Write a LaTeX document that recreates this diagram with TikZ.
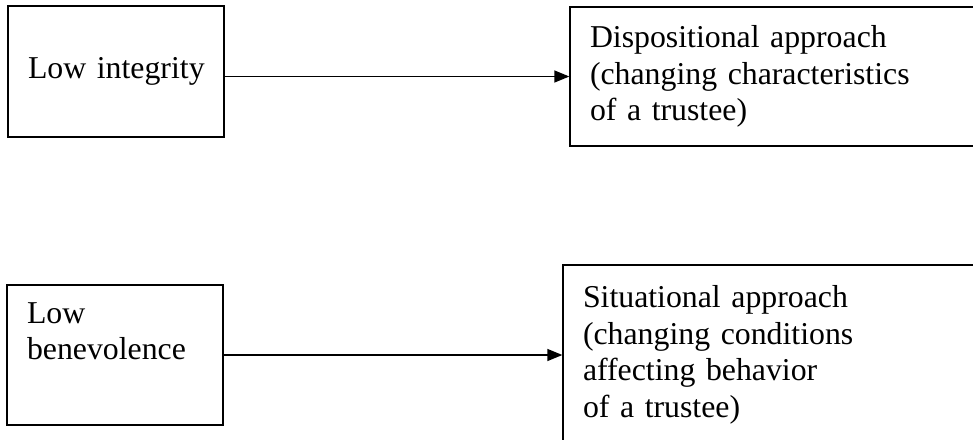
\documentclass[tikz,border=0pt]{standalone}
\usepackage{fontspec}
\setmainfont{Liberation Serif}
\usetikzlibrary{arrows.meta}

\tikzstyle{base}=[rectangle,
                    draw=black,
                    line width=1.3pt,
                    inner xsep=20pt,
                    align=left,
                    font=\fontsize{31.8}{36.5}\selectfont]
\tikzstyle{cause}=[base, text width=176pt]
\tikzstyle{approach}=[base, text width=400pt]

\begin{document}
\begin{tikzpicture}[x=1pt, y=-1pt]
    \path[use as bounding box, clip] (0,0) rectangle (973,439);

      \node at (116.0,  71.5) (low_integ)   [cause, minimum height=131pt]    {\mbox{Low integrity}};
      \node at (790.0,  76.5) (dispos)      [approach, minimum height=139pt] {Dispositional approach\\(changing characteristics\\of a trustee)};
      \node at (115.0, 355.0) (low_benev)   [cause, minimum height=140pt]    {Low\\benevolence\\\strut};
      \node at (783.0, 355.0) (situat)      [approach, minimum height=180pt] {Situational approach\\(changing conditions\\affecting behavior\\of a trustee)};

      \draw[-{Triangle[length=15pt,width=12pt]}, line width=1.3pt] (low_integ.east |- dispos.west) -- (dispos.west);
      \draw[-{Triangle[length=15pt,width=12pt]}, line width=1.3pt] (low_benev.east)                -- (situat.west);
  \end{tikzpicture}
\end{document}
